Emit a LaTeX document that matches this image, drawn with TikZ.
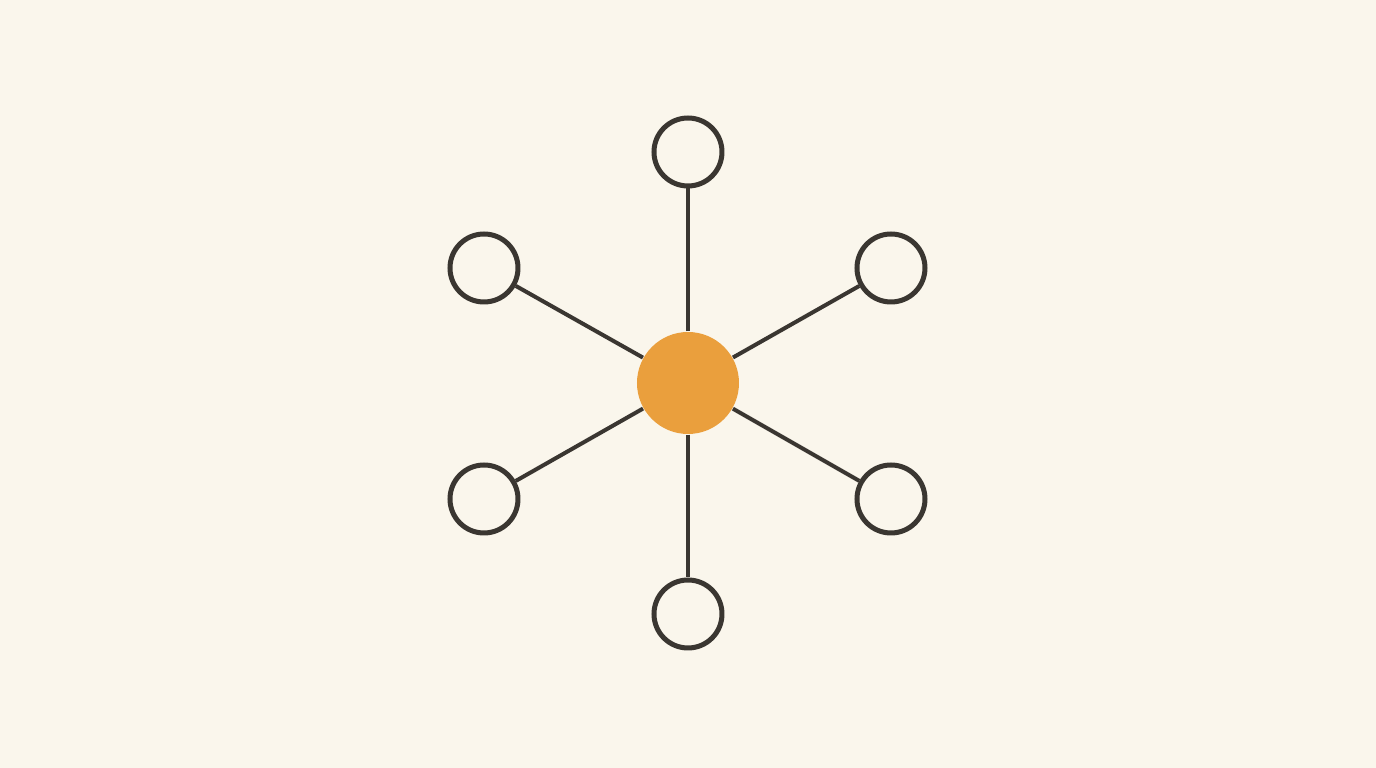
\documentclass[tikz,border=0pt]{standalone}
\usepackage{xcolor}
\definecolor{paper}{HTML}{FAF6EC}
\definecolor{hubfill}{HTML}{EA9F3D}
\definecolor{ink}{HTML}{3A3631}

\begin{document}
\begin{tikzpicture}
\fill[paper] (-6.88,-3.85) rectangle (6.88,3.83);
\useasboundingbox (-6.88,-3.85) rectangle (6.88,3.83);
\tikzset{leaf/.style={draw=ink,circle,line width=0.05cm,minimum size=0.68cm,inner sep=0pt}}
\node[circle,fill=hubfill,minimum size=1.02cm,inner sep=0pt](hub) at (0,0){};
\node[leaf](top) at (0,2.31){};
\node[leaf](upright) at (2.03,1.15){};
\node[leaf](lowright) at (2.03,-1.16){};
\node[leaf](bottom) at (0,-2.31){};
\node[leaf](lowleft) at (-2.04,-1.16){};
\node[leaf](upleft) at (-2.04,1.15){};
\path[draw=ink,line width=0.04cm] (hub) edge (top);
\path[draw=ink,line width=0.04cm] (hub) edge (upright);
\path[draw=ink,line width=0.04cm] (hub) edge (lowright);
\path[draw=ink,line width=0.04cm] (hub) edge (bottom);
\path[draw=ink,line width=0.04cm] (hub) edge (lowleft);
\path[draw=ink,line width=0.04cm] (hub) edge (upleft);
\end{tikzpicture}
\end{document}
